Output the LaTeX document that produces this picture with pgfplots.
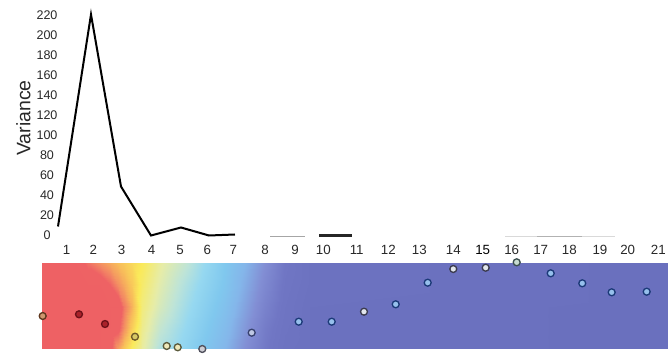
\documentclass[border=0pt]{standalone}
\usepackage{fontspec}
\setmainfont{Liberation Sans}
\usepackage{pgfplots}
\usepackage{pgfplotstable}
\pgfplotsset{compat=1.18}
\definecolor{tickc}{RGB}{40,40,40}
\definecolor{f1}{RGB}{205,150,110}\definecolor{d1}{RGB}{95,55,30}
\definecolor{fr}{RGB}{170,34,42}\definecolor{dr}{RGB}{110,16,24}
\definecolor{fy}{RGB}{215,200,100}\definecolor{dy}{RGB}{110,90,40}
\definecolor{fp}{RGB}{238,232,185}\definecolor{dp}{RGB}{90,90,60}
\definecolor{fg}{RGB}{205,205,212}\definecolor{dg}{RGB}{80,80,92}
\definecolor{fgb}{RGB}{190,200,228}\definecolor{dgb}{RGB}{55,65,110}
\definecolor{fb}{RGB}{150,192,236}\definecolor{db}{RGB}{28,58,120}
\definecolor{fw}{RGB}{226,230,236}\definecolor{dw}{RGB}{60,60,80}
\definecolor{fgg}{RGB}{200,220,210}\definecolor{dgg}{RGB}{60,80,80}

\pgfplotstableread{
x y v
42 86 85
60 86 85
75 86 85
88 86 78
100 86 74
110 86 70.7
118 86 68
124 86 66
132 86 63.3
142 86 60
160 86 52
185 86 45
205 86 38
225 86 31
245 86 24
265 86 16
285 86 8
310 86 3
668 86 0
42 64 85
60 64 85
75 64 85
88 64 85
100 64 85
110 64 80
118 64 74.4
124 64 70.8
132 64 66
142 64 58
160 64 50
185 64 42
205 64 36
225 64 30
245 64 22
265 64 14
285 64 7
310 64 3
668 64 0
42 42 85
60 42 85
75 42 85
88 42 85
100 42 85
110 42 85
118 42 85
124 42 77
132 42 69.5
142 42 56
160 42 48
185 42 40
205 42 34
225 42 28
245 42 20
265 42 12
285 42 6
310 42 2
668 42 0
42 21 85
60 21 85
75 21 85
88 21 85
100 21 85
110 21 85
118 21 82
124 21 74
132 21 65
142 21 54
160 21 45
185 21 38
205 21 32
225 21 26
245 21 18
265 21 10
285 21 5
310 21 2
668 21 0
42 0 85
60 0 85
75 0 85
88 0 85
100 0 85
110 0 82
118 0 72
124 0 66
132 0 59
142 0 52
160 0 42
185 0 36
205 0 30
225 0 24
245 0 16
265 0 9
285 0 4
310 0 2
668 0 0
}\fieldtable

\pgfplotstableread{
x y c
42.7 33 a
79 34.7 r
105 25 r
135 12.3 y
166.7 3 p
177.7 1.7 p
202.3 0 g
251.7 16.3 gb
298.7 27.3 b
331.7 27.3 b
364 37.3 w
395.7 44.7 b
427.7 66.3 b
453.3 80 w
485.7 81.3 w
516.7 86.7 gg
550.7 75.7 b
582.3 65.7 b
611.7 56.7 b
646.7 57.3 b
}\pointtable

\begin{document}
\begin{tikzpicture}
\useasboundingbox (0,0) rectangle (501.75pt,265.5pt);
\begin{axis}[
  at={(31.5pt,85.125pt)}, anchor=south west,
  scale only axis, width=469.5pt, height=172.5pt,
  xmin=42, xmax=668, ymin=-5, ymax=225,
  axis line style={draw=none}, major tick length=0pt,
  xtick={66.7,93.3,121.7,151.7,180,207.3,233.3,265,295,323.3,356.7,388.3,419.3,453.3,482.7,511.7,540.7,569.3,600,627.7,658.3},
  xticklabels={1,2,3,4,5,6,7,8,9,10,11,12,13,14,{\textcolor{black}{15}},16,17,18,19,20,21},
  ytick={0,20,...,220},
  /pgf/number format/assume math mode=true,
  xticklabel style={font=\fontsize{10}{12}\selectfont, text=tickc},
  yticklabel style={font=\fontsize{9.4}{11}\selectfont, text=tickc, anchor=center, xshift=3.75pt},
  ylabel={Variance},
  ylabel style={font=\fontsize{14.6}{17}\selectfont, text=tickc, at={(axis description cs:-0.02955,0.5326)}, anchor=center},
  clip=false,
]
\addplot[black, line width=1.5pt] coordinates {(58,9)(91,221)(121,49)(151,0)(181,8)(209,0)(235,1)};
\addplot[gray!70, line width=0.6pt] coordinates {(270,-1)(305,-1)};
\addplot[black!85, line width=2pt] coordinates {(319.3,0.2)(351.7,0.2)};
\addplot[gray!30, line width=0.6pt] coordinates {(505,-0.5)(615,-0.5)};
\addplot[gray!60, line width=0.6pt] coordinates {(537,-0.5)(582,-0.5)};
\end{axis}
\begin{axis}[
  at={(31.5pt,3.75pt)}, anchor=south west,
  scale only axis, width=469.5pt, height=64.5pt,
  xmin=42, xmax=668, ymin=0, ymax=86,
  hide axis, view={0}{90}, clip=false,
  colormap={heat}{rgb255(0pt)=(106,112,190); rgb255(8pt)=(112,118,196); rgb255(16pt)=(130,142,212); rgb255(24pt)=(132,182,234); rgb255(31pt)=(128,200,238); rgb255(38pt)=(150,216,240); rgb255(44pt)=(190,228,215); rgb255(51pt)=(230,236,168); rgb255(60pt)=(250,234,90); rgb255(68pt)=(248,190,90); rgb255(76pt)=(242,130,100); rgb255(80pt)=(238,98,100); rgb255(100pt)=(238,96,100)},
  point meta min=0, point meta max=100,
]
\addplot3[surf, shader=interp, mesh/cols=19, point meta=explicit] table[x=x, y=y, z=v, meta=v] {\fieldtable};
\addplot[only marks, scatter, scatter src=explicit symbolic, mark=*, mark size=2.6pt,
  scatter/classes={
    a={mark=*, fill=f1, draw=d1, line width=1pt},
    r={mark=*, fill=fr, draw=dr, line width=1pt},
    y={mark=*, fill=fy, draw=dy, line width=1pt},
    p={mark=*, fill=fp, draw=dp, line width=1pt},
    g={mark=*, fill=fg, draw=dg, line width=1pt},
    gb={mark=*, fill=fgb, draw=dgb, line width=1pt},
    b={mark=*, fill=fb, draw=db, line width=1pt},
    w={mark=*, fill=fw, draw=dw, line width=1pt},
    gg={mark=*, fill=fgg, draw=dgg, line width=1pt}}
] table[x=x, y=y, meta=c] {\pointtable};
\end{axis}
\end{tikzpicture}
\end{document}
